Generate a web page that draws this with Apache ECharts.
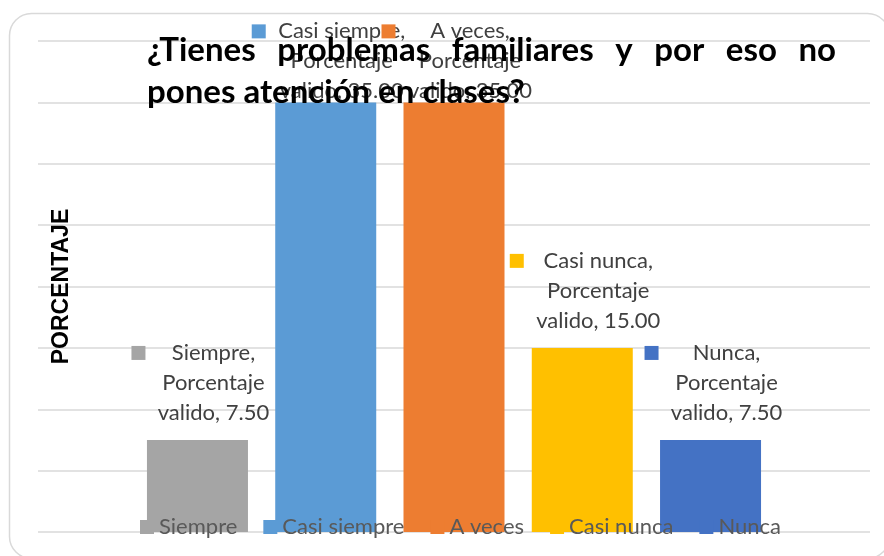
<!DOCTYPE html>
<html>
<head>
<meta charset="utf-8">
<script src="https://cdn.jsdelivr.net/npm/echarts@6/dist/echarts.min.js"></script>
<style>
  html, body { margin: 0; padding: 0; background: #fff; }
  #chart { width: 884px; height: 556px; }
</style>
</head>
<body>
<div id="chart"></div>
<script>
  // datos
  var categories = ['Siempre', 'Casi siempre', 'A veces', 'Casi nunca', 'Nunca'];
  var percentages = [7.5, 35, 35, 15, 7.5];
  var categoryName = 'Porcentaje valido';
  var yMax = 40;
  var yStep = 5;
  var titleLine1 = ['¿Tienes', 'problemas', 'familiares', 'y', 'por', 'eso', 'no'];
  var titleLine2 = 'pones atención en clases?';
  var yTitle = 'PORCENTAJE';

  var colors = ['#a5a5a5', '#5b9bd5', '#ed7d31', '#ffc000', '#4472c4'];
  var labelFont = 'Lato, "Open Sans", sans-serif';

  var ctx = document.createElement('canvas').getContext('2d');
  function textWidth(txt, font) {
    ctx.font = font;
    return ctx.measureText(txt).width;
  }

  // titulo justificado en la primera linea
  var titleFont = 'bold 33px Lato';
  var wordsWidth = 0;
  titleLine1.forEach(function (w) { wordsWidth += textWidth(w, titleFont); });
  var gapW = (836 - 147 - wordsWidth) / (titleLine1.length - 1);
  var titleText = titleLine1.map(function (w) { return '{w|' + w + '}'; }).join('{g|}') +
    '\n{w|' + titleLine2 + '}';

  var myChart = echarts.init(document.getElementById('chart'));

  var series = categories.map(function (name, i) {
    var lines = [name + ',', 'Porcentaje', 'valido, ' + percentages[i].toFixed(2)];
    var w = 0;
    lines.forEach(function (l) { w = Math.max(w, textWidth(l, '22px Lato')); });
    var top = percentages[i] >= 35; // etiqueta pegada al borde superior
    return {
      name: name,
      type: 'bar',
      barWidth: 101,
      barGap: '27%',
      itemStyle: { color: colors[i] },
      data: [percentages[i]],
      label: {
        show: true,
        position: 'top',
        distance: 12,
        offset: top ? [3, 16] : [3, 0],
        formatter: '{sq|}{sp|}{t|' + lines[0] + '}\n{bl|}{t|' + lines[1] + '}\n{bl|}{t|' + lines[2] + '}',
        rich: {
          sq: { width: 14, height: 14, backgroundColor: colors[i] },
          sp: { width: 12 },
          bl: { width: 26 },
          t: {
            width: Math.ceil(w), align: 'center', fontSize: 22, lineHeight: 30,
            color: '#404040', fontFamily: labelFont
          }
        }
      }
    };
  });

  var option = {
    animation: false,
    backgroundColor: '#fff',
    title: {
      text: titleText,
      left: 147,
      top: 29,
      padding: 0,
      textStyle: {
        rich: {
          w: { fontFamily: labelFont, fontWeight: 'bold', fontSize: 33, lineHeight: 42, color: '#000' },
          g: { width: gapW }
        }
      }
    },
    legend: {
      data: categories,
      left: 135,
      top: 511,
      itemWidth: 14,
      itemHeight: 14,
      itemGap: 26,
      icon: 'rect',
      textStyle: { fontFamily: labelFont, fontSize: 22, color: '#595959' }
    },
    grid: { left: 38, right: 14, top: 41, bottom: 24 },
    xAxis: {
      type: 'category',
      data: [categoryName],
      axisLine: { show: false },
      axisTick: { show: false },
      axisLabel: { show: false }
    },
    yAxis: {
      type: 'value',
      min: 0,
      max: yMax,
      interval: yStep,
      name: yTitle,
      nameLocation: 'middle',
      nameRotate: 90,
      nameGap: -35,
      nameTextStyle: { fontFamily: '"Liberation Sans", Arial, sans-serif', fontWeight: 'bold', fontSize: 23, color: '#000' },
      axisLine: { show: false },
      axisTick: { show: false },
      axisLabel: { show: false },
      splitLine: { lineStyle: { color: '#d9d9d9', width: 1.5 } }
    },
    graphic: [{
      type: 'rect',
      silent: true,
      shape: { x: 9.5, y: 13.5, width: 880, height: 545, r: 22 },
      style: { fill: 'none', stroke: '#d9d9d9', lineWidth: 1.5 }
    }],
    series: series
  };

  myChart.setOption(option);
</script>
</body>
</html>
